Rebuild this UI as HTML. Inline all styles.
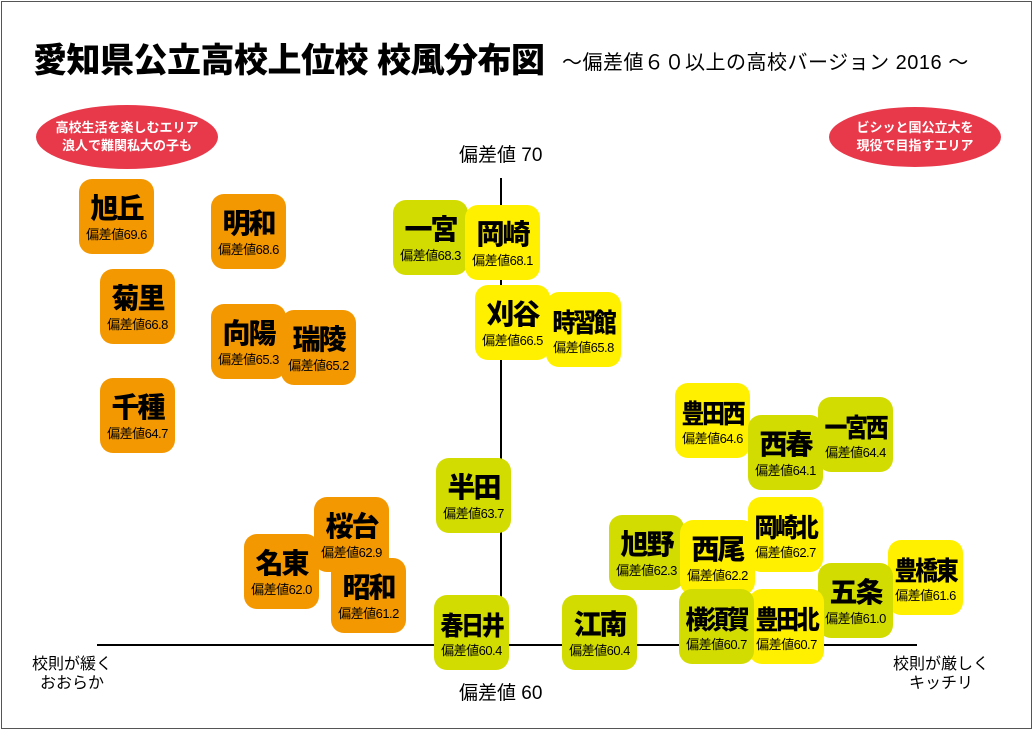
<!DOCTYPE html>
<html><head><meta charset="utf-8"><style>
*{margin:0;padding:0;box-sizing:border-box}
body{width:1034px;height:731px;background:#fff;position:relative;overflow:hidden;font-family:"Liberation Sans","Noto Sans CJK JP",sans-serif}
.frame{position:absolute;left:1px;top:1px;width:1031px;height:728px;border:1.5px solid #555}
.t{position:absolute;white-space:nowrap;color:#000}
.b{position:absolute;width:75px;height:75px;border-radius:13px;text-align:center}
.b .n{position:absolute;left:-6px;right:-6px;top:14px;font-size:28px;font-weight:900;line-height:32px;letter-spacing:-2px}
.b .n.n3{font-size:26px;letter-spacing:-2.5px;transform:scaleX(0.88);top:15px}
.b .s{position:absolute;left:-4px;right:-4px;top:49px;font-size:13px;line-height:14px;letter-spacing:-0.5px}
.o{background:#f39800}.g{background:#d2dc00}.y{background:#fff000}
.el{position:absolute;background:#e8394a;border-radius:50%;color:#fff;font-weight:bold;font-size:13px;line-height:18px;text-align:center;display:flex;align-items:center;justify-content:center}
.line{position:absolute;background:#000}
</style></head><body>
<div class="frame"></div>
<div class="t" style="left:33px;top:33px;font-size:34px;font-weight:900;letter-spacing:-0.5px">愛知県公立高校上位校 校風分布図</div>
<div class="t" style="left:562px;top:46px;font-size:20px;letter-spacing:0.5px">～偏差値６０以上の高校バージョン 2016 ～</div>
<div class="el" style="left:36px;top:105px;width:182px;height:64px">高校生活を楽しむエリア<br>浪人で難関私大の子も</div>
<div class="el" style="left:829px;top:107px;width:172px;height:60px">ビシッと国公立大を<br>現役で目指すエリア</div>
<div class="line" style="left:500px;top:178px;width:2px;height:467px"></div>
<div class="line" style="left:97px;top:644px;width:820px;height:2px"></div>
<div class="t" style="left:459px;top:140px;font-size:19px">偏差値 70</div>
<div class="t" style="left:459px;top:678px;font-size:19px">偏差値 60</div>
<div class="t" style="left:32px;top:655px;font-size:16px;line-height:19px;text-align:center">校則が緩く<br>おおらか</div>
<div class="t" style="left:893px;top:655px;font-size:16px;line-height:19px;text-align:center">校則が厳しく<br>キッチリ</div>

<div class="b o" style="left:79px;top:179px"><div class="n">旭丘</div><div class="s">偏差値69.6</div></div>
<div class="b o" style="left:211px;top:194px"><div class="n">明和</div><div class="s">偏差値68.6</div></div>
<div class="b o" style="left:100px;top:269px"><div class="n">菊里</div><div class="s">偏差値66.8</div></div>
<div class="b o" style="left:211px;top:304px"><div class="n">向陽</div><div class="s">偏差値65.3</div></div>
<div class="b o" style="left:281px;top:310px"><div class="n">瑞陵</div><div class="s">偏差値65.2</div></div>
<div class="b o" style="left:100px;top:378px"><div class="n">千種</div><div class="s">偏差値64.7</div></div>
<div class="b g" style="left:393px;top:200px"><div class="n">一宮</div><div class="s">偏差値68.3</div></div>
<div class="b y" style="left:465px;top:205px"><div class="n">岡崎</div><div class="s">偏差値68.1</div></div>
<div class="b y" style="left:475px;top:285px"><div class="n">刈谷</div><div class="s">偏差値66.5</div></div>
<div class="b y" style="left:546px;top:292px"><div class="n n3">時習館</div><div class="s">偏差値65.8</div></div>
<div class="b y" style="left:675px;top:383px"><div class="n n3">豊田西</div><div class="s">偏差値64.6</div></div>
<div class="b g" style="left:818px;top:397px"><div class="n n3">一宮西</div><div class="s">偏差値64.4</div></div>
<div class="b g" style="left:748px;top:415px"><div class="n">西春</div><div class="s">偏差値64.1</div></div>
<div class="b g" style="left:436px;top:458px"><div class="n">半田</div><div class="s">偏差値63.7</div></div>
<div class="b o" style="left:314px;top:497px"><div class="n">桜台</div><div class="s">偏差値62.9</div></div>
<div class="b o" style="left:244px;top:534px"><div class="n">名東</div><div class="s">偏差値62.0</div></div>
<div class="b o" style="left:331px;top:558px"><div class="n">昭和</div><div class="s">偏差値61.2</div></div>
<div class="b g" style="left:609px;top:515px"><div class="n">旭野</div><div class="s">偏差値62.3</div></div>
<div class="b y" style="left:680px;top:520px"><div class="n">西尾</div><div class="s">偏差値62.2</div></div>
<div class="b y" style="left:748px;top:497px"><div class="n n3">岡崎北</div><div class="s">偏差値62.7</div></div>
<div class="b y" style="left:888px;top:540px"><div class="n n3">豊橋東</div><div class="s">偏差値61.6</div></div>
<div class="b g" style="left:818px;top:563px"><div class="n">五条</div><div class="s">偏差値61.0</div></div>
<div class="b y" style="left:749px;top:589px"><div class="n n3">豊田北</div><div class="s">偏差値60.7</div></div>
<div class="b g" style="left:679px;top:589px"><div class="n n3">横須賀</div><div class="s">偏差値60.7</div></div>
<div class="b g" style="left:434px;top:595px"><div class="n n3">春日井</div><div class="s">偏差値60.4</div></div>
<div class="b g" style="left:562px;top:595px"><div class="n">江南</div><div class="s">偏差値60.4</div></div>
</body></html>
